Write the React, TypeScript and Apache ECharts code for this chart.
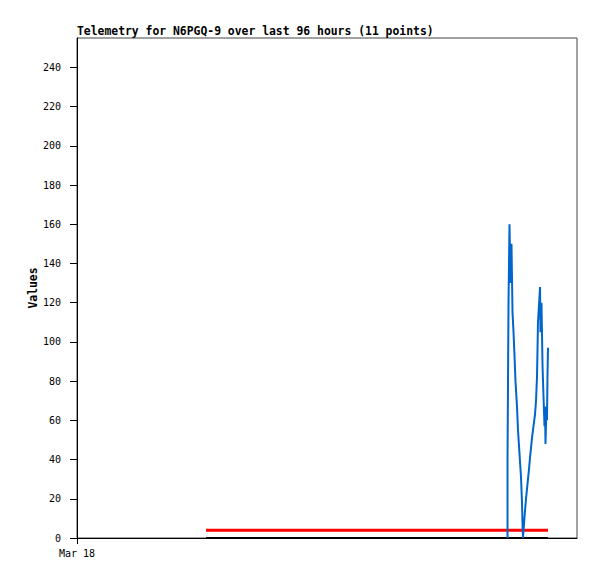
import React, { useEffect, useRef } from "react";
import * as echarts from "echarts";

const TITLE = "Telemetry for N6PGQ-9 over last 96 hours (11 points)";
const Y_TICKS = [0, 20, 40, 60, 80, 100, 120, 140, 160, 180, 200, 220, 240];
const X_TICK_HOURS = [0];
const X_TICK_LABELS = ["Mar 18"];

// hours since Mar 18 00:00
const blueHours = [
  82.66, 82.66, 82.85, 83.04, 83.23, 83.42, 83.62, 83.81, 84.0, 84.19, 84.48, 84.67,
  84.96, 85.25, 85.44, 85.54, 85.63, 85.82, 86.02, 86.21, 86.4, 86.59, 86.78, 86.98,
  87.17, 87.36, 87.55, 87.74, 87.94, 88.13, 88.32, 88.51, 88.9, 88.99, 89.18, 89.38,
  89.57, 89.76, 89.86, 89.95, 90.14, 90.24, 90.34, 90.43,
];
const blueValues = [
  0, 40, 120, 160, 130, 150, 115, 105, 93, 80, 67, 55,
  43, 31, 18, 7, 0, 7, 14, 20, 25, 30, 35, 41,
  46, 51, 55, 59, 63, 70, 82, 110, 128, 105, 120, 88,
  72, 57, 67, 48, 67, 60, 84, 97,
];
const refHours = [24.77, 90.43];
const redValues = [4, 4];
const blackValues = [0, 0];

export default function App() {
  const ref = useRef<HTMLDivElement>(null);
  useEffect(() => {
    if (!ref.current) return;
    const chart = echarts.init(ref.current, undefined, { renderer: "svg" });
    const font = "DejaVu Sans Mono";
    const pair = (xs: number[], ys: number[]) => xs.map((x, i) => [x, ys[i]]);
    chart.setOption({
      animation: false,
      backgroundColor: "#ffffff",
      title: {
        text: TITLE,
        left: 72,
        top: 20,
        textStyle: { fontFamily: font, fontSize: 11.4, fontWeight: "bold", color: "#000" },
      },
      grid: {
        left: 77,
        top: 38,
        right: 20,
        bottom: 41,
        show: true,
        borderColor: "#444",
        borderWidth: 1,
        containLabel: false,
      },
      xAxis: {
        type: "value",
        min: 0,
        max: 96,
        splitLine: { show: false },
        axisLine: { show: true, lineStyle: { color: "#000", width: 1 } },
        axisTick: { show: true, length: 6, lineStyle: { color: "#000" }, customValues: X_TICK_HOURS },
        axisLabel: {
          customValues: X_TICK_HOURS,
          formatter: (v: number) => {
            const i = X_TICK_HOURS.indexOf(v);
            return i >= 0 ? X_TICK_LABELS[i] : "";
          },
          fontFamily: font,
          fontSize: 10,
          color: "#000",
          margin: 10,
        },
      },
      yAxis: {
        type: "value",
        min: 0,
        max: 255,
        name: "Values",
        nameLocation: "middle",
        nameGap: 39,
        nameMoveOverlap: false,
        nameTextStyle: { fontFamily: font, fontSize: 11.4, fontWeight: "bold", color: "#000" },
        splitLine: { show: false },
        axisLine: { show: true, lineStyle: { color: "#000", width: 1 } },
        axisTick: { show: true, length: 7, lineStyle: { color: "#000" }, customValues: Y_TICKS },
        axisLabel: {
          customValues: Y_TICKS,
          fontFamily: font,
          fontSize: 10,
          color: "#000",
          margin: 16,
        },
      },
      series: [
        {
          type: "line",
          data: pair(refHours, blackValues),
          symbol: "none",
          lineStyle: { color: "#000", width: 2 },
          z: 3,
        },
        {
          type: "line",
          data: pair(refHours, redValues),
          symbol: "none",
          lineStyle: { color: "#ff0000", width: 3 },
          z: 4,
        },
        {
          type: "line",
          data: pair(blueHours, blueValues),
          symbol: "none",
          lineStyle: { color: "#0066cc", width: 2 },
          z: 5,
        },
      ],
    });
    return () => chart.dispose();
  }, []);
  return <div ref={ref} style={{ position: "absolute", left: 0, top: 0, width: 597, height: 579 }} />;
}
